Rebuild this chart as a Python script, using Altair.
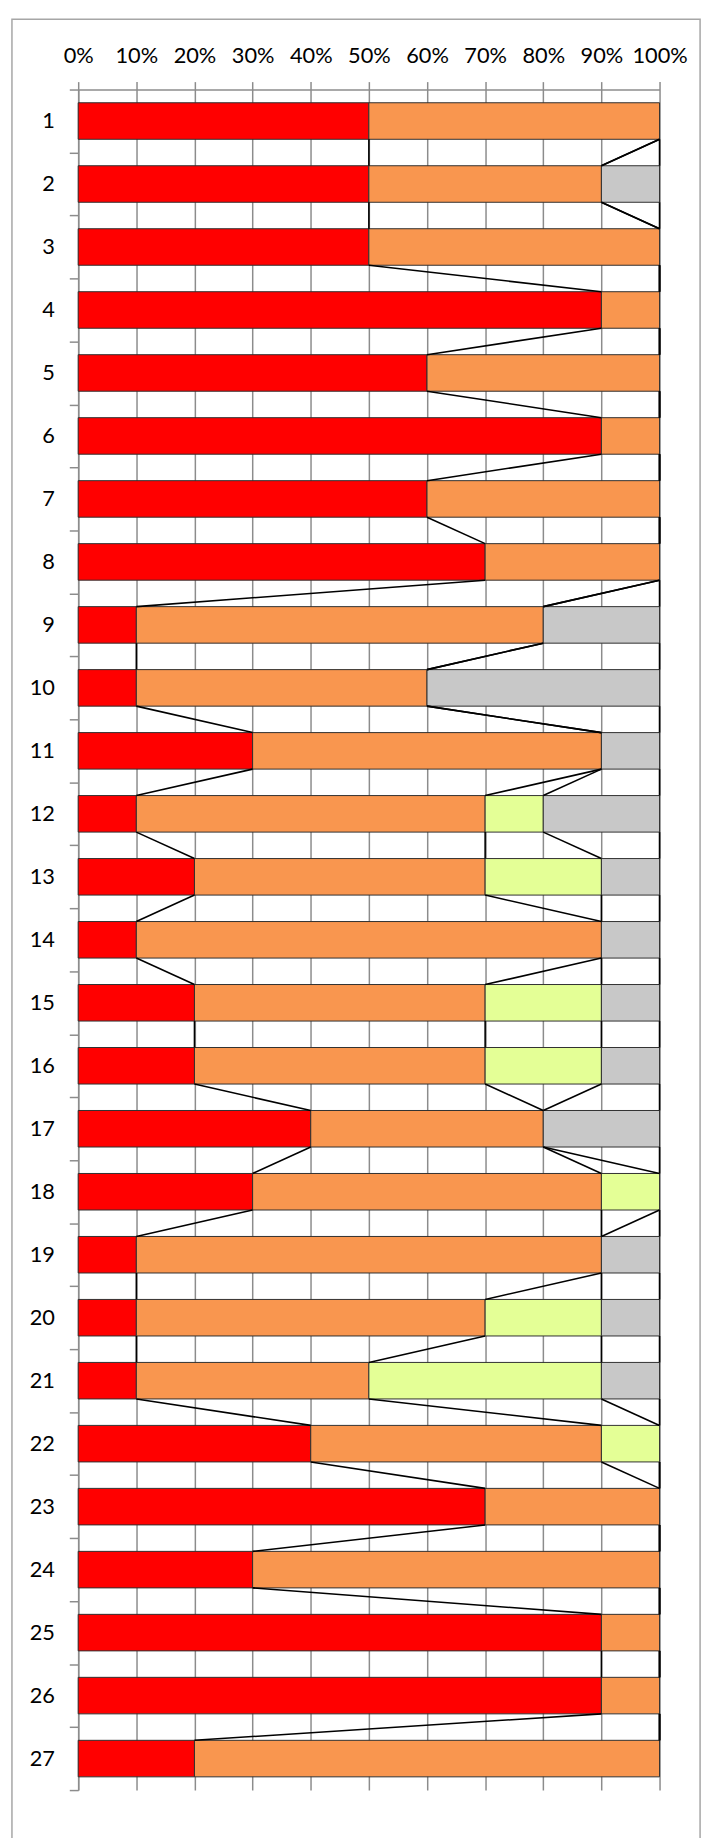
import altair as alt
import pandas as pd

categories = list(range(1, 28))
series_names = ["Series 1", "Series 2", "Series 3", "Series 4"]
series_colors = ["#FF0000", "#F9964F", "#E4FF96", "#C8C8C8"]

s1 = [50, 50, 50, 90, 60, 90, 60, 70, 10, 10, 30, 10, 20, 10, 20, 20, 40, 30, 10, 10, 10, 40, 70, 30, 90, 90, 20]
s2 = [50, 40, 50, 10, 40, 10, 40, 30, 70, 50, 60, 60, 50, 80, 50, 50, 40, 60, 80, 60, 40, 50, 30, 70, 10, 10, 80]
s3 = [0, 0, 0, 0, 0, 0, 0, 0, 0, 0, 0, 10, 20, 0, 20, 20, 0, 10, 0, 20, 40, 10, 0, 0, 0, 0, 0]
s4 = [0, 10, 0, 0, 0, 0, 0, 0, 20, 40, 10, 20, 10, 10, 10, 10, 20, 0, 10, 10, 10, 0, 0, 0, 0, 0, 0]

tick_values = list(range(0, 101, 10))

series_values = [s1, s2, s3, s4]

# cumulative boundaries per category
cums = []
for i in range(len(categories)):
    c = 0
    row = []
    for vals in series_values:
        c += vals[i]
        row.append(c)
    cums.append(row)

bar_rows = []
for i, cat in enumerate(categories):
    start = 0
    for k, name in enumerate(series_names):
        v = series_values[k][i]
        if v > 0:
            bar_rows.append({"cat": cat, "series": name, "start": start, "end": start + v})
        start += v
bars_df = pd.DataFrame(bar_rows)

line_rows = []
for i in range(len(categories) - 1):
    for k in range(len(series_names)):
        line_rows.append({
            "cat": categories[i],
            "cat_next": categories[i + 1],
            "x0": cums[i][k],
            "x1": cums[i + 1][k],
        })
lines_df = pd.DataFrame(line_rows)

FONT = "Lato"
GRAY = "#8C8C8C"
BAR_FRACTION = 0.58

x_scale = alt.Scale(domain=[0, 100], nice=False, zero=True)
y_scale = alt.Scale(paddingInner=0, paddingOuter=0)

frame = alt.Chart(pd.DataFrame({"k": [0]})).mark_rect(
    fillOpacity=0, stroke="#A6A6A6", strokeWidth=1.5
).encode(
    x=alt.value(-67), x2=alt.value(629), y=alt.value(-71), y2=alt.value(1770)
)

bars = alt.Chart(bars_df).mark_bar(
    stroke="#303030", strokeWidth=1, height=alt.RelativeBandSize(band=BAR_FRACTION)
).encode(
    y=alt.Y(
        "cat:O",
        scale=y_scale,
        title=None,
        axis=alt.Axis(
            orient="left",
            tickBand="extent",
            tickSize=9,
            tickColor=GRAY,
            tickWidth=1.5,
            domainColor=GRAY,
            domainWidth=1.5,
            labelFont=FONT,
            labelFontSize=22,
            labelColor="black",
            labelPadding=15,
            grid=False,
        ),
    ),
    x=alt.X(
        "start:Q",
        scale=x_scale,
        title=None,
        axis=alt.Axis(
            orient="top",
            values=tick_values,
            labelExpr="datum.value + '%'",
            tickSize=8,
            tickColor=GRAY,
            tickWidth=1.5,
            domainColor=GRAY,
            domainWidth=1.5,
            gridColor=GRAY,
            gridWidth=1.5,
            labelFont=FONT,
            labelFontSize=22,
            labelColor="black",
            labelPadding=14,
            labelFlush=False,
            labelOverlap=False,
            labelBound=False,
        ),
    ),
    x2="end:Q",
    color=alt.Color(
        "series:N",
        scale=alt.Scale(domain=series_names, range=series_colors),
        legend=None,
    ),
)

lines = alt.Chart(lines_df).mark_rule(color="black", strokeWidth=1.6).encode(
    y=alt.Y("cat:O", bandPosition=0.5 + BAR_FRACTION / 2),
    y2=alt.Y2("cat_next", bandPosition=0.5 - BAR_FRACTION / 2),
    x=alt.X("x0:Q"),
    x2=alt.X2("x1"),
)

chart = alt.layer(frame, bars, lines).properties(
    width=588,
    height=1720,
    autosize=alt.AutoSizeParams(type="none"),
    padding={"left": 71, "top": 72, "right": 48, "bottom": 38},
).configure_view(strokeWidth=0)

chart.save("out.html", embed_options={"renderer": "svg", "actions": False})
